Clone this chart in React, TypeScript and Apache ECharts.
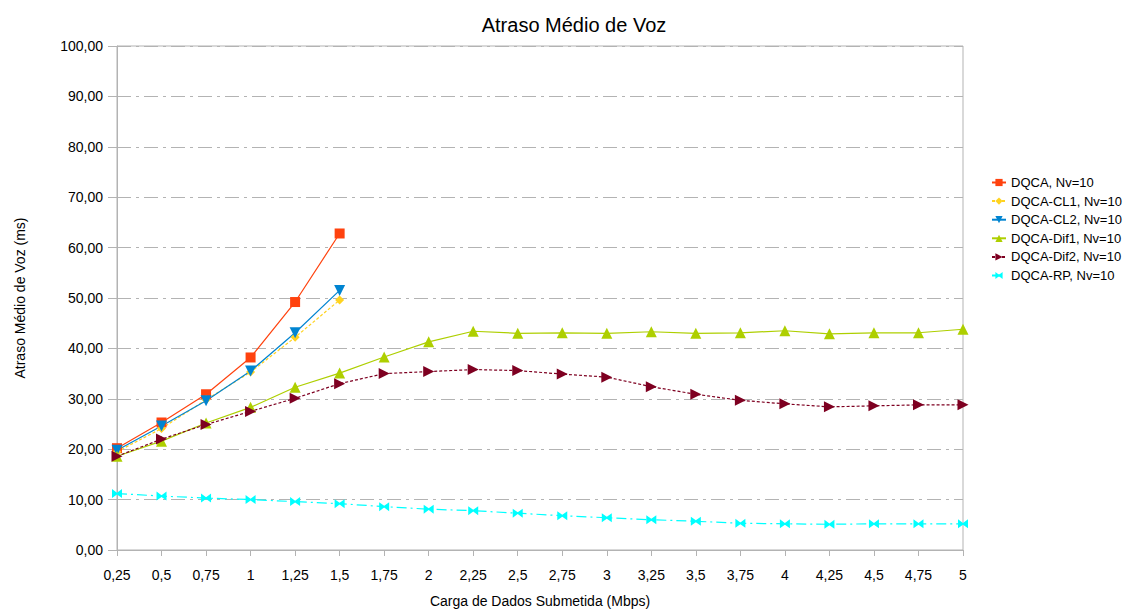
import React, { useEffect, useRef } from "react";
import * as echarts from "echarts";

const categories = ["0,25","0,5","0,75","1","1,25","1,5","1,75","2","2,25","2,5","2,75","3","3,25","3,5","3,75","4","4,25","4,5","4,75","5"];
const dqca = [20.2, 25.3, 30.9, 38.2, 49.2, 62.8];
const dqcaCL1 = [19.5, 24.1, 29.8, 35.3, 42.2, 49.6];
const dqcaCL2 = [19.8, 24.6, 29.6, 35.5, 43.1, 51.5];
const dqcaDif1 = [18.6, 21.6, 25.2, 28.3, 32.3, 35.1, 38.3, 41.3, 43.4, 43.0, 43.1, 43.0, 43.3, 43.0, 43.1, 43.5, 42.9, 43.1, 43.1, 43.8];
const dqcaDif2 = [18.6, 22.0, 24.9, 27.5, 30.1, 33.0, 35.0, 35.4, 35.8, 35.6, 34.9, 34.3, 32.4, 30.9, 29.7, 29.0, 28.4, 28.6, 28.8, 28.8];
const dqcaRP = [11.2, 10.7, 10.3, 10.0, 9.6, 9.2, 8.6, 8.1, 7.8, 7.3, 6.8, 6.4, 6.0, 5.7, 5.3, 5.2, 5.1, 5.2, 5.2, 5.2];
const seriesNames = ["DQCA, Nv=10", "DQCA-CL1, Nv=10", "DQCA-CL2, Nv=10", "DQCA-Dif1, Nv=10", "DQCA-Dif2, Nv=10", "DQCA-RP, Nv=10"];

const FONT = "Liberation Sans, Arial, sans-serif";

export default function App() {
  const ref = useRef<HTMLDivElement>(null);
  useEffect(() => {
    const chart = echarts.init(ref.current!, null, { renderer: "svg" });
    const mk = (name: string, data: number[], color: string, symbol: string, size: any, lineType: any) => ({
      name,
      type: "line",
      data,
      symbol,
      symbolSize: size,
      itemStyle: { color },
      lineStyle: { color, width: 1.2, type: lineType },
    });
    chart.setOption({
      animation: false,
      backgroundColor: "#ffffff",
      title: {
        text: "Atraso Médio de Voz",
        left: 569,
        textAlign: "center",
        top: 10,
        textStyle: { fontFamily: FONT, fontSize: 20, fontWeight: "normal", color: "#000" },
      },
      legend: {
        orient: "vertical",
        left: 986,
        top: 171,
        itemGap: 5.6,
        itemWidth: 14,
        itemHeight: 9,
        textStyle: { fontFamily: FONT, fontSize: 13, color: "#000" },
        data: seriesNames,
      },
      grid: {
        left: 117, right: 164, top: 46, bottom: 60,
        show: true, borderColor: "#b3b3b3", borderWidth: 1,
        outerBoundsMode: "none",
        containLabel: false,
      },
      xAxis: {
        type: "category",
        data: categories,
        boundaryGap: false,
        name: "Carga de Dados Submetida (Mbps)",
        nameLocation: "middle",
        nameGap: 44,
        nameTextStyle: { fontFamily: FONT, fontSize: 14, color: "#000" },
        axisLine: { lineStyle: { color: "#b3b3b3" } },
        axisTick: { alignWithLabel: true, length: 6, lineStyle: { color: "#b3b3b3" } },
        axisLabel: { fontFamily: FONT, fontSize: 14, color: "#000", margin: 18, interval: 0 },
        splitLine: { show: false },
      },
      yAxis: {
        type: "value",
        min: 0,
        max: 100,
        interval: 10,
        name: "Atraso Médio de Voz (ms)",
        nameLocation: "middle",
        nameGap: 90,
        nameTextStyle: { fontFamily: FONT, fontSize: 14, color: "#000" },
        axisLine: { show: true, lineStyle: { color: "#b3b3b3" } },
        axisTick: { show: true, length: 9, lineStyle: { color: "#b3b3b3" } },
        axisLabel: {
          fontFamily: FONT, fontSize: 14, color: "#000", margin: 14,
          formatter: (v: number) => v.toFixed(2).replace(".", ","),
        },
        splitLine: { show: true, lineStyle: { color: "#b3b3b3", type: [14, 5, 3, 5], width: 1 } },
      },
      series: [
        mk(seriesNames[0], dqca, "#ff420e", "rect", 10, "solid"),
        mk(seriesNames[1], dqcaCL1, "#ffd320", "diamond", 9, [3, 2]),
        mk(seriesNames[2], dqcaCL2, "#0084d1", "path://M0,0L10,0L5,9Z", 11, "solid"),
        mk(seriesNames[3], dqcaDif1, "#aecf00", "path://M5,0L10,9L0,9Z", 11, "solid"),
        mk(seriesNames[4], dqcaDif2, "#7e0021", "path://M0,0L9,5L0,10Z", 11, [3, 2]),
        mk(seriesNames[5], dqcaRP, "#00ffff", "path://M0,0L5,4L10,0L10,10L5,6L0,10Z", [10, 9], [10, 4, 2, 4]),
      ],
    });
    return () => chart.dispose();
  }, []);
  return <div ref={ref} style={{ position: "fixed", left: 0, top: 0, width: 1127, height: 610 }} />;
}
